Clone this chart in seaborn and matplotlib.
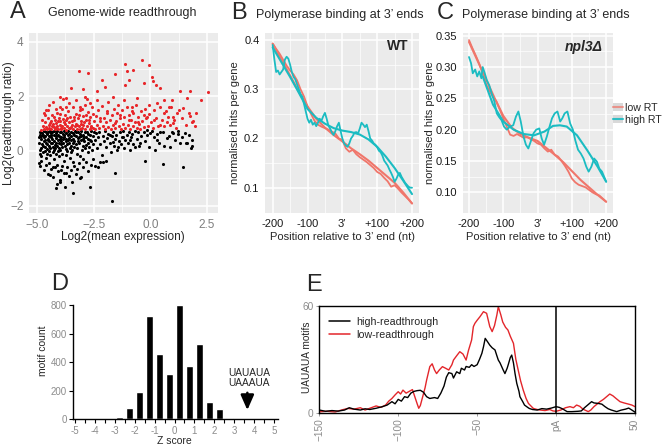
import numpy as np
import pandas as pd
import matplotlib
matplotlib.use("Agg")
import matplotlib.pyplot as plt
import seaborn as sns
from matplotlib.lines import Line2D
from matplotlib.patches import Patch

# ---------------- DATA ----------------
# Panel A: genome-wide readthrough (log2 mean expression, log2 readthrough ratio)
red_pts = [
    (-1.12,3.18),(-0.38,3.33),(-0.05,3.15),(-3.15,2.94),(-2.75,2.87),(-1.56,2.82),(-1.03,2.94),(-0.75,2.96),
    (0.07,2.72),(0.11,2.57),(2.56,2.16),(2.21,1.87),(1.74,2.21),(1.32,2.18),(0.44,2.29),(0.24,2.41),
    (-0.29,2.5),(-0.96,2.6),(-1.12,2.41),(-2.0,2.35),(-2.15,2.6),(-2.37,2.21),(-2.99,2.26),(-3.48,2.29),
    (-3.7,1.93),(-4.0,1.99),(-4.29,1.8),(-4.62,1.5),(1.6,1.93),(1.45,1.56),(1.18,1.38),(0.95,1.87),
    (0.8,1.62),(1.0,1.26),(1.74,1.28),(1.84,1.07),(2.02,1.38),(0.58,1.87),(0.28,1.74),(0.58,1.38),
    (-0.08,1.68),(-0.29,1.32),(-0.59,1.93),(-0.81,1.62),(-1.16,1.87),(-1.41,1.68),(-1.63,1.99),(-1.85,1.8),
    (-2.37,1.87),(-2.66,1.74),(-2.89,1.99),(-3.11,1.62),(1.0,1.01),(0.73,1.07),(0.44,0.95),(0.14,1.13),
    (-0.15,1.26),(-0.55,1.07),(-0.75,1.38),(-0.96,1.13),(-1.34,1.32),(-1.56,1.01),(-1.93,1.38),(-2.22,1.2),
    (-4.82,0.78),(-4.75,0.92),(-4.7,0.81),(-4.66,1.05),(-4.6,0.88),(-4.55,0.79),(-4.52,1.2),(-4.48,0.95),
    (-4.45,0.84),(-4.4,1.1),(-4.38,0.8),(-4.33,1.32),(-4.3,0.98),(-4.27,0.87),(-4.22,1.15),(-4.2,0.79),
    (-4.16,1.02),(-4.12,0.9),(-4.1,1.4),(-4.06,0.82),(-4.03,1.22),(-4.0,0.95),(-3.97,1.08),(-3.94,0.8),
    (-3.9,1.55),(-3.88,0.9),(-3.85,1.18),(-3.82,0.85),(-3.78,1.3),(-3.75,1.0),(-3.72,0.78),(-3.7,1.12),
    (-3.66,0.92),(-3.62,1.45),(-3.6,0.83),(-3.57,1.05),(-3.53,1.25),(-3.5,0.88),(-3.47,0.97),(-3.43,1.62),
    (-3.4,0.8),(-3.37,1.12),(-3.33,0.9),(-3.3,1.35),(-3.27,1.0),(-3.23,0.82),(-3.2,1.2),(-3.16,0.93),
    (-3.12,1.5),(-3.1,0.79),(-3.06,1.08),(-3.02,0.86),(-2.98,1.28),(-2.95,0.95),(-2.9,1.7),(-2.87,0.82),
    (-2.83,1.15),(-2.8,0.9),(-2.76,1.42),(-2.72,1.02),(-2.68,0.8),(-2.65,1.25),(-2.6,0.92),(-2.56,1.6),
    (-2.52,0.85),(-2.48,1.1),(-4.78,1.12),(-4.63,1.3),(-4.5,1.5),(-4.42,1.02),(-4.35,0.9),(-4.25,1.25),
    (-4.18,0.86),(-4.08,1.1),(-3.98,1.35),(-3.92,0.85),(-3.8,1.05),(-3.68,1.2),(-3.55,0.85),(-3.45,1.1),
    (-3.35,1.25),(-3.25,0.95),(-3.15,1.3),(-3.05,0.98),(-2.93,1.05),(-2.85,1.3),(-2.7,1.15),(-2.62,0.88),
    (-4.7,1.4),(-4.0,1.6),(-3.6,1.75),(-4.45,1.7),(-3.85,1.9),(-3.3,1.85),(-3.0,1.55),(-2.78,1.9),
    (-2.55,1.35),(-4.15,1.55),(-3.72,1.6),
    (-2.45,0.8),(-2.4,1.28),(-2.35,0.95),(-2.3,1.5),(-2.25,0.85),(-2.2,1.1),(-2.15,1.65),(-2.1,0.9),
    (-2.05,1.22),(-2.0,0.8),(-1.95,1.05),(-1.9,1.45),(-1.85,0.88),(-1.8,1.15),(-1.75,0.82),(-1.7,1.3),
    (-1.65,0.95),(-1.6,1.55),(-1.55,0.85),(-1.5,1.1),(-1.45,1.4),(-1.4,0.9),(-1.35,1.2),(-1.3,0.8),
    (-1.25,1.5),(-1.2,1.0),(-1.15,1.25),(-1.1,0.85),(-1.05,1.6),(-1.0,0.95),(-0.95,1.3),(-0.9,0.82),
    (-0.85,1.15),(-0.8,1.45),(-0.75,0.9),(-0.7,1.05),(-0.65,1.7),(-0.6,0.85),(-0.55,1.25),(-0.5,1.0),
    (-0.45,0.8),(-0.4,1.45),(-0.35,1.1),(-0.3,0.88),(-0.25,1.55),(-0.2,1.2),(-0.12,0.9),(-0.05,1.35),
    (0.02,1.05),(0.1,0.85),(0.18,1.5),(0.25,1.2),(0.35,0.9),(0.42,1.6),(0.52,1.15),(0.6,0.92),
    (0.68,1.45),(0.78,1.25),(0.85,0.95),(0.92,1.6),(1.05,1.15),(1.12,0.85),(1.25,1.5),(1.4,1.2),
    (1.55,0.95),(1.7,1.4),(1.9,1.1),(1.95,0.9),
]
black_pts = [
    (-4.88,0.7),(-4.9,0.3),(-4.86,-0.1),(-4.89,0.5),(-4.87,0.05),(-4.85,0.6),
    (-4.8,0.45),(-4.82,0.1),(-4.79,0.65),(-4.81,-0.2),(-4.78,0.25),(-4.8,0.55),(-4.83,-0.35),
    (-4.72,0.2),(-4.74,0.6),(-4.7,0.35),(-4.73,-0.05),(-4.71,0.72),(-4.69,0.5),
    (-4.63,0.4),(-4.65,0.0),(-4.62,0.68),(-4.64,0.15),(-4.61,-0.25),(-4.66,0.55),(-4.6,0.3),
    (-4.55,0.62),(-4.57,0.25),(-4.53,0.45),(-4.56,-0.1),(-4.54,0.08),(-4.52,0.7),
    (-4.47,0.35),(-4.49,0.55),(-4.45,0.0),(-4.48,0.2),(-4.46,-0.45),(-4.44,0.74),(-4.5,0.4),
    (-4.4,0.5),(-4.42,0.12),(-4.38,0.66),(-4.41,-0.15),(-4.39,0.3),(-4.37,0.58),
    (-4.32,0.28),(-4.34,0.7),(-4.3,-0.05),(-4.33,0.45),(-4.31,0.15),(-4.29,-0.6),
    (-4.25,0.6),(-4.27,0.38),(-4.23,0.05),(-4.26,0.72),(-4.24,-0.3),(-4.22,0.22),
    (-4.17,0.48),(-4.19,0.1),(-4.15,0.65),(-4.18,0.3),(-4.16,-0.1),(-4.14,0.55),
    (-4.1,0.2),(-4.12,0.72),(-4.08,0.42),(-4.11,-0.5),(-4.09,0.0),(-4.07,0.6),
    (-4.02,0.55),(-4.04,0.3),(-4.0,0.68),(-4.03,0.1),(-4.01,-0.2),(-3.99,0.45),
    (-3.95,0.38),(-3.97,0.02),(-3.93,0.7),(-3.96,0.25),(-3.94,0.52),(-3.92,-0.7),
    (-3.87,0.62),(-3.89,0.15),(-3.85,0.45),(-3.88,-0.1),(-3.86,0.3),
    (-3.8,0.5),(-3.82,0.72),(-3.78,0.2),(-3.81,-0.35),(-3.79,0.6),
    (-3.72,0.35),(-3.74,0.08),(-3.7,0.66),(-3.73,0.45),(-3.71,-0.15),
    (-3.65,0.58),(-3.67,0.25),(-3.63,0.72),(-3.66,0.0),(-3.64,0.4),
    (-3.57,0.3),(-3.59,0.62),(-3.55,-0.25),(-3.58,0.48),(-3.56,0.12),
    (-3.5,0.7),(-3.52,0.4),(-3.48,0.18),(-3.51,0.55),(-3.49,-0.05),
    (-3.42,0.45),(-3.44,0.05),(-3.4,0.65),(-3.43,0.28),(-3.41,-0.4),
    (-3.35,0.6),(-3.37,0.35),(-3.33,0.72),(-3.36,0.15),
    (-3.27,0.25),(-3.29,0.55),(-3.25,-0.1),(-3.28,0.68),
    (-3.2,0.48),(-3.22,0.1),(-3.18,0.7),(-3.21,0.35),
    (-3.12,0.62),(-3.14,0.3),(-3.1,-0.2),(-3.13,0.5),
    (-3.05,0.4),(-3.07,0.72),(-3.03,0.05),(-3.06,0.55),
    (-2.97,0.2),(-2.99,0.6),(-2.95,0.45),(-2.98,-0.3),
    (-2.9,0.68),(-2.92,0.35),(-2.88,0.1),(-2.91,0.52),
    (-2.82,0.5),(-2.84,0.22),(-2.8,0.7),
    (-2.75,0.3),(-2.77,0.62),(-2.73,-0.05),(-2.76,0.45),
    (-2.67,0.58),(-2.69,0.15),(-2.65,0.4),
    (-2.6,0.72),(-2.62,0.35),(-2.58,0.05),
    (-2.52,0.25),(-2.54,0.55),(-2.5,0.68),
    (-2.45,0.4),(-2.4,0.65),(-2.35,0.1),(-2.3,0.5),(-2.25,0.7),(-2.2,0.25),(-2.15,-0.15),(-2.1,0.55),
    (-2.05,0.35),(-2.0,0.72),(-1.95,0.15),(-1.9,0.48),(-1.85,0.62),(-1.8,0.3),(-1.75,-0.05),(-1.7,0.55),
    (-1.65,0.7),(-1.6,0.2),(-1.55,0.45),(-1.5,0.6),(-1.45,0.05),(-1.4,0.38),(-1.35,0.68),(-1.3,0.25),
    (-1.25,0.5),(-1.2,0.72),(-1.15,0.12),(-1.1,0.42),(-1.05,0.6),(-1.0,0.3),(-0.95,0.7),(-0.9,0.05),
    (-0.85,0.5),(-0.8,0.62),(-0.75,0.25),(-0.7,0.72),(-0.6,0.45),(-0.55,0.68),(-0.5,0.2),(-0.4,0.55),
    (-0.3,0.7),(-0.25,0.35),(-0.15,0.6),(-0.05,0.15),(0.05,0.72),(0.15,0.5),(0.2,0.05),(0.3,0.62),
    (0.4,0.3),(0.55,0.7),(0.62,0.2),(0.8,0.55),(0.95,0.7),(1.1,0.4),(1.2,0.62),(1.38,0.5),
    (1.55,0.3),(1.7,0.6),(1.78,0.1),
    (-4.85,-0.55),(-4.7,-0.7),(-4.6,-0.5),(-4.5,-0.85),(-4.38,-0.65),(-4.28,-0.95),(-4.2,-0.6),(-4.13,-1.2),
    (-4.05,-0.75),(-3.98,-1.05),(-3.9,-0.55),(-3.82,-0.8),(-3.75,-1.3),(-3.68,-0.6),(-3.6,-0.9),(-3.52,-0.7),
    (-3.45,-1.15),(-3.38,-0.55),(-3.3,-0.85),(-3.22,-0.65),(-3.15,-0.45),(-3.05,-0.95),(-2.95,-0.6),(-2.85,-0.4),
    (-2.75,-0.75),(-2.62,-0.5),(-2.55,-0.3),(-2.45,-0.55),(-2.2,-0.4),(-1.95,-0.35),
    (-1.71,-1.82),(-3.41,-1.55),(-2.67,-1.33),(-4.14,-1.37),(-4.0,-1.12),(-3.11,-1.0),(-1.56,-0.79),(0.54,-0.48),
    (1.45,-0.6),(-0.22,-0.35),(-2.07,-0.39),(-2.3,-0.57),(-3.7,-0.82),(-4.44,-0.88),(-4.91,-0.45),(1.84,0.18),
    (1.84,0.4),(1.62,0.28),(1.32,0.3),(0.88,0.16),(0.73,0.46),(0.28,0.4),(-0.02,0.65),(-0.47,0.28),
    (-0.69,0.16),(-0.92,0.4),(-1.21,0.52),(-1.43,0.16),(-1.65,0.34),(-1.8,0.59),(1.0,0.65),(1.52,0.67),
    (1.22,0.74),(0.44,0.71),(-0.15,0.77),
]
A_red_x = [p[0] for p in red_pts]
A_red_y = [p[1] for p in red_pts]
A_black_x = [p[0] for p in black_pts]
A_black_y = [p[1] for p in black_pts]

# Panel B (WT): polymerase binding profiles
B_low_pos = [-200,-190,-180,-170,-160,-150,-140,-130,-120,-110,-100,-90,-80,-70,-60,-50,-40,-30,-20,-10,
             0,10,20,30,40,50,60,70,80,90,100,110,120,130,140,150,160,170,180,190,200]
B_low_raw = [0.393,0.382,0.372,0.36,0.348,0.338,0.33,0.318,0.3,0.285,0.265,0.25,0.236,0.228,0.224,0.221,0.218,
             0.214,0.21,0.2,0.197,0.18,0.173,0.177,0.168,0.162,0.157,0.152,0.146,0.14,0.132,0.128,0.12,0.113,
             0.102,0.105,0.098,0.09,0.083,0.076,0.068]
B_high_pos = [-200,-195,-190,-185,-180,-175,-170,-165,-160,-155,-150,-145,-140,-135,-130,-125,-120,-115,-110,
              -105,-100,-95,-90,-85,-80,-75,-70,-65,-60,-55,-50,-45,-40,-35,-30,-25,-20,-15,-10,-5,0,5,10,15,
              20,25,30,35,40,45,50,55,60,65,70,75,80,85,90,95,100,105,110,115,120,125,130,135,140,145,150,155,
              160,165,170,175,180,185,190,195,200]
B_high_raw = [0.39,0.36,0.335,0.338,0.33,0.335,0.34,0.36,0.366,0.362,0.35,0.335,0.325,0.32,0.31,0.3,0.29,0.285,
              0.27,0.255,0.24,0.232,0.238,0.228,0.232,0.225,0.232,0.24,0.236,0.245,0.252,0.24,0.226,0.22,0.212,
              0.207,0.215,0.225,0.232,0.215,0.2,0.19,0.186,0.183,0.19,0.2,0.205,0.212,0.213,0.21,0.22,0.232,
              0.228,0.223,0.228,0.215,0.2,0.196,0.19,0.187,0.182,0.175,0.172,0.165,0.155,0.15,0.145,0.137,0.13,
              0.122,0.112,0.118,0.126,0.13,0.122,0.116,0.11,0.106,0.102,0.1,0.1]
smooth_pos = [-200,-175,-150,-125,-100,-75,-50,-25,0,25,50,75,100,125,150,175,200]
B_low_smooth = [0.392,0.36,0.328,0.295,0.265,0.24,0.222,0.207,0.194,0.18,0.168,0.155,0.14,0.125,0.11,0.09,0.068]
B_high_smooth = [0.385,0.355,0.325,0.293,0.26,0.242,0.23,0.221,0.216,0.213,0.208,0.198,0.183,0.163,0.14,0.114,0.087]

# Panel C (npl3 delta)
C_low_pos = [-200,-190,-180,-170,-160,-150,-140,-130,-120,-110,-100,-90,-80,-70,-60,-50,-40,-30,-20,-10,
             0,10,20,30,40,50,60,70,80,90,100,110,120,130,140,150,160,170,180,190,200]
C_low_raw = [0.343,0.33,0.318,0.305,0.29,0.272,0.262,0.252,0.245,0.232,0.218,0.205,0.192,0.19,0.193,0.19,0.187,
             0.188,0.185,0.182,0.178,0.176,0.17,0.165,0.168,0.16,0.157,0.15,0.142,0.133,0.122,0.116,0.112,0.11,
             0.108,0.104,0.1,0.097,0.095,0.09,0.085]
C_high_pos = [-200,-194,-189,-182,-176,-170,-164,-160,-154,-148,-141,-134,-126,-119,-112,-105,-98,-90,-80,-71,
              -63,-56,-49,-41,-34,-27,-20,-12,-4,5,12,19,27,35,42,50,58,66,72,79,87,95,103,110,118,126,134,142,
              149,157,165,173,180,188,194,200]
C_high_raw = [0.316,0.306,0.29,0.296,0.285,0.293,0.282,0.3,0.29,0.279,0.271,0.258,0.245,0.226,0.22,0.215,0.205,
              0.2,0.205,0.207,0.221,0.229,0.213,0.189,0.176,0.17,0.181,0.194,0.2,0.202,0.186,0.176,0.189,0.205,
              0.218,0.226,0.229,0.213,0.218,0.226,0.229,0.21,0.2,0.183,0.168,0.162,0.154,0.141,0.133,0.141,0.154,
              0.149,0.138,0.133,0.125,0.117]
C_low_smooth = [0.34,0.31,0.28,0.25,0.222,0.203,0.193,0.187,0.182,0.171,0.16,0.148,0.134,0.12,0.108,0.096,0.085]
C_high_smooth_pos = [-160,-130,-100,-70,-40,-10,20,45,65,85,115,145,175,200]
C_high_smooth = [0.285,0.24,0.213,0.2,0.193,0.191,0.197,0.206,0.207,0.205,0.191,0.167,0.141,0.117]

# Panel D: motif Z-score histogram
z_centers = [-2.75,-2.25,-1.75,-1.25,-0.75,-0.25,0.25,0.75,1.25,1.75,2.25,2.75,3.25]
motif_counts = [15,80,190,720,455,320,800,370,530,120,70,10,5]

# Panel E: UAUAUA motif density around pA
E_high_pos = [-150,-146,-142,-138,-134,-131,-128,-124,-121,-118,-114,-110,-107,-104,-102,-100,-98,-96,-94,-92,
              -90,-88,-86,-84,-82,-80,-77,-75,-73,-71,-69.5,-68,-66,-65,-63,-61,-60,-58,-57,-55,-53.5,-52,-50,
              -48.5,-47,-46,-44.9,-43.5,-42,-40.5,-38.7,-37.5,-36.6,-35.5,-34.5,-33.5,-32.4,-31,-30.3,-29,-28.1,
              -27,-26,-24.9,-23.5,-22.9,-21,-20,-18,-17,-15,-12,-9,-6,-3,0,2,4,7,10,14,16,18,20,22.5,24,26.8,29,
              31,33,35,38.4,41,44,46,48,50]
E_high_val = [1.5,0.8,1.2,0.9,1.5,2.8,2.0,1.5,2.2,1.8,2.5,3.4,4.3,6.2,5.0,7.5,6.5,9,8.5,11,12,12.4,12.6,11.5,9,8,
              8.5,8,11,15,20,22.5,22,19.5,23,22,25,24,26,25.5,27,26,27,30,33.4,37,41.8,40,38,36.5,35.3,32,29.6,28,
              26,24,22,25,27,31,32.4,28,22,16.5,12,9,6,4.3,3,2.4,1.8,1.5,2.3,2.0,2.6,3.4,3.0,2.2,0.6,0.6,0.8,1.0,
              2.8,4.3,6.2,5.5,5.2,4.8,3.4,2.2,1.5,0.6,1.4,2.0,2.6,1.5,0.3]
E_low_pos = [-150,-145,-140,-136,-132,-128,-124,-121,-118,-114,-111,-108,-106,-104,-102,-100,-98.5,-97,-95,-93,
             -91,-89.5,-88,-87,-86,-84.5,-83,-82,-80,-78.5,-77,-75.7,-74,-72,-70,-68,-66,-65,-63,-61,-59,-57,
             -55.5,-53.5,-52.4,-51.4,-50,-48.2,-46,-44,-42,-40.5,-39,-37.5,-36.6,-35,-33.8,-32,-30.5,-29,-27,
             -25.5,-24,-22.5,-20.8,-19,-17.5,-14.4,-12,-10,-7,-4,-2,0,3,6,8.8,11,13,15,17,20.4,22,24,27.8,30,32,
             34,36,38,40.5,43,46,48,50]
E_low_val = [0.5,0.8,0.4,1.5,2.4,2.0,2.8,1.5,2.5,3.8,3.0,4.3,6.5,8,10,11.8,10.5,12.7,11.0,12,13,9,5,2.5,4,9,14,
             18.4,25.9,27.5,24,22,24,25.9,25,24,27,29.6,32,34.3,33,29.6,35,40.9,48.4,50.3,52,54,56.8,55.9,48.4,
             45.6,49,55,59.6,55,51,48,46.5,43,39,30,24,18,12.7,8,5.2,2.4,1.8,1.5,1.2,1.8,1.0,0.8,1.5,2.8,3.4,2.8,
             4.3,3.6,2.0,0.6,1.5,3.4,6.2,7.5,9,10.5,9.5,8.0,6.2,5.5,4.8,4.3,3.4]

# ---------------- STYLE / LAYOUT ----------------
sns.set_theme(style="white")
plt.rcParams['font.family'] = ['Liberation Sans', 'DejaVu Sans']
plt.rcParams['axes.unicode_minus'] = True

W, H = 670, 447
fig = plt.figure(figsize=(6.7, 4.47), dpi=100)

def ax_px(l, t, r, b):
    return fig.add_axes([l / W, 1 - b / H, (r - l) / W, (b - t) / H])

def fx(x):
    return x / W

def fy(y):
    return 1 - y / H

GG_RED = '#F0766B'
GG_CYAN = '#1BBCC2'

def gg(ax, xmaj, xmin, ymaj, ymin, labcol, size):
    ax.set_facecolor('#EBEBEB')
    for s in ax.spines.values():
        s.set_visible(False)
    ax.set_xticks(xmaj)
    ax.set_xticks(xmin, minor=True)
    ax.set_yticks(ymaj)
    ax.set_yticks(ymin, minor=True)
    ax.grid(which='major', color='white', linewidth=1.1)
    ax.grid(which='minor', color='white', linewidth=0.5)
    ax.set_axisbelow(True)
    ax.tick_params(which='major', length=2.5, width=0.6, color='#333333', labelcolor=labcol,
                   labelsize=size, pad=1.5)
    ax.tick_params(which='minor', length=0)
    ax.set_xlabel('')
    ax.set_ylabel('')

# ---- Panel A ----
axA = ax_px(29, 33, 218, 213)
sns.scatterplot(x=A_black_x, y=A_black_y, color='black', s=5, linewidth=0, ax=axA)
sns.scatterplot(x=A_red_x, y=A_red_y, color='#E8262A', s=5, linewidth=0, ax=axA)
axA.set_xlim(-5.35, 2.98)
axA.set_ylim(-2.27, 4.32)
gg(axA, [-5, -2.5, 0, 2.5], [-3.75, -1.25, 1.25], [-2, 0, 2, 4], [-1, 1, 3], '#7F7F7F', 8.5)
axA.set_xticklabels(['\u22125.0', '\u22122.5', '0.0', '2.5'])
axA.set_yticklabels(['\u22122', '0', '2', '4'])
fig.text(fx(122), fy(13), 'Genome-wide readthrough', ha='center', va='center', fontsize=9)
fig.text(fx(123), fy(237), 'Log2(mean expression)', ha='center', va='center', fontsize=8.5)
fig.text(fx(9), fy(123), 'Log2(readthrough ratio)', ha='center', va='center', fontsize=8.5, rotation=90)
fig.text(fx(18), fy(12), 'A', ha='center', va='center', fontsize=17)

# ---- Panel B ----
axB = ax_px(265, 33, 419, 213)
sns.lineplot(x=B_low_pos, y=B_low_raw, color=GG_RED, linewidth=1.3, ax=axB, estimator=None)
sns.lineplot(x=smooth_pos, y=B_low_smooth, color=GG_RED, linewidth=1.5, ax=axB, estimator=None)
sns.lineplot(x=B_high_pos, y=B_high_raw, color=GG_CYAN, linewidth=1.3, ax=axB, estimator=None)
sns.lineplot(x=smooth_pos, y=B_high_smooth, color=GG_CYAN, linewidth=1.5, ax=axB, estimator=None)
axB.set_xlim(-222, 220)
axB.set_ylim(0.0486, 0.4142)
gg(axB, [-200, -100, 0, 100, 200], [-150, -50, 50, 150], [0.1, 0.2, 0.3, 0.4], [0.15, 0.25, 0.35], '#1A1A1A', 8)
axB.set_xticklabels(['-200', '-100', '3\u2019', '+100', '+200'])
axB.set_yticklabels(['0.1', '0.2', '0.3', '0.4'])
axB.text(0.93, 0.93, 'WT', transform=axB.transAxes, ha='right', va='center', fontsize=10, fontweight='bold')
fig.text(fx(340), fy(15), 'Polymerase binding at 3\u2019 ends', ha='center', va='center', fontsize=9)
fig.text(fx(342), fy(237), 'Position relative to 3\u2019 end (nt)', ha='center', va='center', fontsize=8)
fig.text(fx(235), fy(123), 'normalised hits per gene', ha='center', va='center', fontsize=8, rotation=90)
fig.text(fx(239), fy(13), 'B', ha='center', va='center', fontsize=17)

# ---- Panel C ----
axC = ax_px(463, 33, 613, 213)
sns.lineplot(x=C_low_pos, y=C_low_raw, color=GG_RED, linewidth=1.3, ax=axC, estimator=None)
sns.lineplot(x=smooth_pos, y=C_low_smooth, color=GG_RED, linewidth=1.5, ax=axC, estimator=None)
sns.lineplot(x=C_high_pos, y=C_high_raw, color=GG_CYAN, linewidth=1.3, ax=axC, estimator=None)
sns.lineplot(x=C_high_smooth_pos, y=C_high_smooth, color=GG_CYAN, linewidth=1.5, ax=axC, estimator=None)
axC.set_xlim(-217.5, 220)
axC.set_ylim(0.067, 0.3543)
gg(axC, [-200, -100, 0, 100, 200], [-150, -50, 50, 150], [0.10, 0.15, 0.20, 0.25, 0.30, 0.35],
   [0.125, 0.175, 0.225, 0.275, 0.325], '#1A1A1A', 8)
axC.set_xticklabels(['-200', '-100', '3\u2019', '+100', '+200'])
axC.set_yticklabels(['0.10', '0.15', '0.20', '0.25', '0.30', '0.35'])
axC.text(0.93, 0.92, 'npl3\u0394', transform=axC.transAxes, ha='right', va='center', fontsize=10,
         fontweight='bold', fontstyle='italic')
fig.text(fx(546), fy(15), 'Polymerase binding at 3\u2019 ends', ha='center', va='center', fontsize=9)
fig.text(fx(538), fy(237), 'Position relative to 3\u2019 end (nt)', ha='center', va='center', fontsize=8)
fig.text(fx(430), fy(123), 'normalised hits per gene', ha='center', va='center', fontsize=8, rotation=90)
fig.text(fx(445), fy(13), 'C', ha='center', va='center', fontsize=17)

leg_handles = [(Patch(facecolor='#D9D9D9', edgecolor='none'), Line2D([], [], color=GG_RED, lw=1.5, alpha=0.7)),
               (Patch(facecolor='#D9D9D9', edgecolor='none'), Line2D([], [], color=GG_CYAN, lw=1.5, alpha=0.9))]
fig.legend(handles=leg_handles, labels=['low RT', 'high RT'], loc='upper left',
           bbox_to_anchor=(fx(612), fy(102)), frameon=False, fontsize=7.6, handlelength=0.9,
           handleheight=0.8, handletextpad=0.25, labelspacing=0.15, borderpad=0.1, borderaxespad=0.0)

# ---- Panel D ----
axD = ax_px(73, 305, 278, 419.3)
sns.barplot(x=z_centers, y=motif_counts, native_scale=True, color='black', saturation=1, width=0.66,
            errorbar=None, ax=axD)
axD.set_xlim(-5.1, 5.2)
axD.set_ylim(0, 800)
axD.set_xticks(range(-5, 6))
axD.set_xticks(np.arange(-4.5, 5.0, 1.0), minor=True)
axD.set_yticks([0, 200, 400, 600, 800])
axD.set_xticklabels([str(v) for v in range(-5, 6)])
for s in ['top', 'right']:
    axD.spines[s].set_visible(False)
for s in ['left', 'bottom']:
    axD.spines[s].set_color('black')
    axD.spines[s].set_linewidth(1.0)
axD.tick_params(which='both', length=3, width=0.8, color='black', labelcolor='#8C8C8C', labelsize=7, pad=1.5,
                bottom=True, left=True)
axD.set_xlabel('')
axD.set_ylabel('')
axD.set_facecolor('white')
axD.grid(False)
axD.annotate('', xy=(3.66, 45), xytext=(3.66, 205),
             arrowprops=dict(arrowstyle='-|>,head_length=0.75,head_width=0.33', color='black', lw=1.8))
axD.text(2.72, 322, 'UAUAUA', ha='left', va='center', fontsize=7.3)
axD.text(2.72, 256, 'UAAAUA', ha='left', va='center', fontsize=7.3)
fig.text(fx(174), fy(441), 'Z score', ha='center', va='center', fontsize=7.5)
fig.text(fx(43), fy(351), 'motif count', ha='center', va='center', fontsize=7.5, rotation=90)
fig.text(fx(60), fy(284), 'D', ha='center', va='center', fontsize=17)

# ---- Panel E ----
axE = ax_px(319.3, 306, 635, 412.7)
sns.lineplot(x=E_low_pos, y=E_low_val, color='#E3262B', linewidth=1.0, ax=axE, estimator=None)
sns.lineplot(x=E_high_pos, y=E_high_val, color='black', linewidth=1.0, ax=axE, estimator=None)
axE.axvline(0, color='black', lw=1.1)
axE.set_xlim(-150, 50)
axE.set_ylim(0, 60)
axE.set_facecolor('white')
axE.grid(False)
for s in axE.spines.values():
    s.set_visible(True)
    s.set_color('black')
    s.set_linewidth(1.0)
axE.set_xticks([-150, -100, -50, 0, 50])
axE.set_xticklabels(['\u2212150', '\u2212100', '\u221250', 'pA', '50'], rotation=90)
axE.set_yticks([0, 60])
axE.set_yticklabels(['0', '60'])
axE.tick_params(length=2, width=0.6, color='#8C8C8C', labelcolor='#8C8C8C', labelsize=7.3, pad=2,
                bottom=True, left=True)
axE.set_xlabel('')
axE.set_ylabel('')
e_handles = [Line2D([], [], color='black', lw=1.1), Line2D([], [], color='#E3262B', lw=1.1)]
axE.legend(handles=e_handles, labels=['high-readthrough', 'low-readthrough'], loc='upper left',
           bbox_to_anchor=(0.0, 0.99), frameon=False, fontsize=7.7, handlelength=2.0,
           handletextpad=0.6, labelspacing=0.3)
fig.text(fx(307), fy(357), 'UAUAUA motifs', ha='center', va='center', fontsize=7.3, rotation=90)
fig.text(fx(314), fy(285), 'E', ha='center', va='center', fontsize=17)

fig.savefig('out.png', dpi=100)
